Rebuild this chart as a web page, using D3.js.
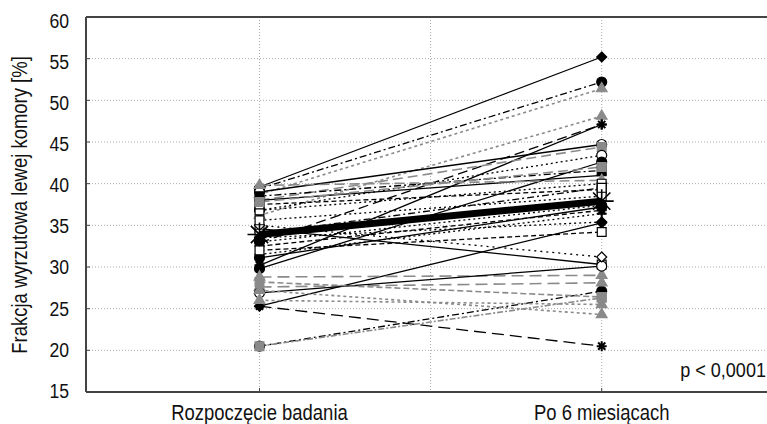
<!DOCTYPE html>
<html>
<head>
<meta charset="utf-8">
<script src="https://cdn.jsdelivr.net/npm/d3@7"></script>
<style>
  body { margin: 0; background: #fff; }
  svg { display: block; }
  text { font-family: "Liberation Sans", Arial, sans-serif; fill: #111; }
</style>
</head>
<body>
<svg id="chart" width="767" height="424"></svg>
<script>
'use strict';

var categories = ['Rozpoczęcie badania', 'Po 6 miesiącach'];
var yTicks = [15, 20, 25, 30, 35, 40, 45, 50, 55, 60];

// EF per patient: baseline and after 6 months
var baseline = [39.6, 39.4, 38.7, 36.2, 30.2, 32.9, 39.0, 38.0, 36.8, 29.8,
                25.3, 25.3, 20.5, 20.5, 28.8, 27.6, 31.1, 34.6, 26.9, 35.0,
                27.2, 26.0, 28.2, 38.0, 38.5, 39.8, 36.8, 37.5, 35.6, 33.0,
                32.5, 31.5, 34.0, 37.8, 33.5, 32.0];
var month6   = [55.2, 52.2, 51.4, 48.1, 47.1, 47.1, 44.7, 44.4, 43.4, 42.6,
                35.3, 20.5, 27.1, 26.3, 29.0, 28.1, 37.2, 30.3, 30.1, 31.2,
                24.3, 25.5, 26.4, 41.0, 41.6, 40.4, 40.0, 39.3, 38.5, 37.4,
                36.8, 36.4, 39.5, 42.0, 35.4, 34.2];
var meanValues = [33.9, 37.9];
var pText = 'p < 0,0001';

// per-patient drawing style: marker, fill, colour, dash
var markers = ['diamond', 'circle', 'triangle', 'triangle', 'asterisk', 'plus', 'ocircle', 'square', 'ocircle', 'circle',
               'diamond', 'asterisk', 'circle', 'square', 'triangle', 'triangle', 'circle', 'osquare', 'ocircle', 'odiamond',
               'triangle', 'triangle', 'square', 'plus', 'square', 'triangle', 'osquare', 'osquare', 'osquare', 'circle',
               'asterisk', 'plus', 'osquare', 'square', 'diamond', 'osquare'];
var greys   = [0, 0, 1, 1, 0, 0, 0, 1, 0, 0,
               0, 0, 0, 1, 1, 1, 0, 0, 0, 0,
               1, 1, 1, 0, 0, 1, 0, 0, 0, 0,
               0, 0, 0, 1, 0, 0];
var dashes  = ['', '7,3,2,3', '3,3', '3,3', '', '10,5', '', '10,5', '2,3', '',
               '', '12,6', '7,3,2,3', '6,2,2,2', '12,6', '12,6', '', '', '', '2,4',
               '3,3', '3,3', '6,3', '', '7,3,2,3', '10,5', '2,3', '5,3', '2,3', '2,3',
               '5,3', '2,3', '7,3,2,3', '10,5', '2,3', '5,3'];

function chart() {
    var svg = d3.select('#chart');
    var plotLeft = 86, plotTop = 17, plotBottom = 392, plotRight = 767;
    var narrow = 0.84; // Arial Narrow look, squeezed Liberation Sans

    var x = d3.scaleLinear().domain([1, 2]).range([259.5, 601.7]);
    var y = d3.scaleLinear().domain([15, 60]).range([plotBottom, plotTop]);

    // grid
    svg.append('g').selectAll('line')
        .data(yTicks.filter(function(d) { return d > 15 && d < 60; }))
        .enter().append('line')
        .attr('x1', plotLeft).attr('x2', plotRight)
        .attr('y1', function(d) { return y(d); }).attr('y2', function(d) { return y(d); })
        .style('stroke', '#aaa').style('stroke-width', 1).style('stroke-dasharray', '1,2');

    svg.append('g').selectAll('line')
        .data([1, 1.5, 2])
        .enter().append('line')
        .attr('x1', function(d) { return x(d); }).attr('x2', function(d) { return x(d); })
        .attr('y1', plotTop).attr('y2', plotBottom)
        .style('stroke', '#aaa').style('stroke-width', 1).style('stroke-dasharray', '1,2');

    function markerPath(type, s) {
        var h = s / 2;
        if (type === 'asterisk') {
            var q = h * 0.72;
            return 'M' + (-h) + ',0L' + h + ',0M0,' + (-h) + 'L0,' + h +
                   'M' + (-q) + ',' + (-q) + 'L' + q + ',' + q + 'M' + (-q) + ',' + q + 'L' + q + ',' + (-q);
        }
        if (type === 'plus') {
            return 'M' + (-h) + ',0L' + h + ',0M0,' + (-h) + 'L0,' + h;
        }
        var t = type.replace(/^o/, '');
        if (t === 'diamond') {
            return 'M0,' + (-h) + 'L' + h + ',0L0,' + h + 'L' + (-h) + ',0Z';
        }
        var sym = { circle: d3.symbolCircle, square: d3.symbolSquare, triangle: d3.symbolTriangle }[t];
        var area = t === 'triangle' ? s * s * 0.5 : s * s * 0.78;
        return d3.symbol().type(sym).size(area)();
    }

    var patients = baseline.map(function(b, i) {
        return { b: b, m: month6[i], marker: markers[i], grey: greys[i], dash: dashes[i] };
    });

    svg.append('g').selectAll('line')
        .data(patients)
        .enter().append('line')
        .attr('x1', x(1)).attr('x2', x(2))
        .attr('y1', function(d) { return y(d.b); })
        .attr('y2', function(d) { return y(d.m); })
        .style('stroke', function(d) { return d.grey ? '#8a8a8a' : '#000'; })
        .style('stroke-width', function(d) { return d.grey ? 1.6 : 1.3; })
        .style('stroke-dasharray', function(d) { return d.dash || null; });

    var pts = [];
    patients.forEach(function(d) {
        pts.push({ cx: x(1), v: d.b, p: d });
        pts.push({ cx: x(2), v: d.m, p: d });
    });

    svg.append('g').selectAll('path')
        .data(pts)
        .enter().append('path')
        .attr('transform', function(d) { return 'translate(' + d.cx + ',' + y(d.v) + ')'; })
        .attr('d', function(d) { return markerPath(d.p.marker, 10); })
        .style('fill', function(d) {
            var t = d.p.marker;
            if (t === 'asterisk' || t === 'plus') return 'none';
            if (t.charAt(0) === 'o') return '#fff';
            return d.p.grey ? '#8a8a8a' : '#000';
        })
        .style('stroke', function(d) { return d.p.grey ? '#8a8a8a' : '#000'; })
        .style('stroke-width', function(d) {
            var t = d.p.marker;
            return (t === 'asterisk' || t === 'plus') ? 2 : 1.2;
        });

    // mean line
    svg.append('line')
        .attr('x1', x(1)).attr('x2', x(2))
        .attr('y1', y(meanValues[0])).attr('y2', y(meanValues[1]))
        .style('stroke', '#000').style('stroke-width', 7);

    svg.append('g').selectAll('path')
        .data(meanValues)
        .enter().append('path')
        .attr('transform', function(d, i) { return 'translate(' + x(i + 1) + ',' + y(d) + ')'; })
        .attr('d', markerPath('asterisk', 24))
        .style('fill', 'none').style('stroke', '#000').style('stroke-width', 1.6);

    // frame
    svg.append('line').attr('x1', plotLeft).attr('x2', plotLeft).attr('y1', plotTop).attr('y2', plotBottom)
        .style('stroke', '#444').style('stroke-width', 2);
    svg.append('line').attr('x1', plotLeft).attr('x2', plotRight).attr('y1', plotTop).attr('y2', plotTop)
        .style('stroke', '#444').style('stroke-width', 2);
    svg.append('line').attr('x1', plotLeft).attr('x2', plotRight).attr('y1', plotBottom).attr('y2', plotBottom)
        .style('stroke', '#444').style('stroke-width', 2);

    // ticks
    svg.append('g').selectAll('line')
        .data(yTicks)
        .enter().append('line')
        .attr('x1', plotLeft).attr('x2', plotLeft + 4)
        .attr('y1', function(d) { return y(d); }).attr('y2', function(d) { return y(d); })
        .style('stroke', '#444').style('stroke-width', 1);

    svg.append('g').selectAll('line')
        .data([1, 2])
        .enter().append('line')
        .attr('x1', function(d) { return x(d); }).attr('x2', function(d) { return x(d); })
        .attr('y1', plotBottom).attr('y2', plotBottom - 4)
        .style('stroke', '#444').style('stroke-width', 1);

    // tick labels
    svg.append('g').selectAll('text')
        .data(yTicks)
        .enter().append('text')
        .attr('transform', function(d) {
            return 'translate(69,' + (y(d) + 1 + (d - 37.5) * 0.12) + ') scale(' + narrow + ',1)';
        })
        .attr('dy', '0.35em')
        .attr('text-anchor', 'end')
        .style('font-size', '21px')
        .text(function(d) { return d; });

    svg.append('g').selectAll('text')
        .data(categories)
        .enter().append('text')
        .attr('transform', function(d, i) { return 'translate(' + x(i + 1) + ',420) scale(' + narrow + ',1)'; })
        .attr('text-anchor', 'middle')
        .style('font-size', '22px')
        .text(function(d) { return d; });

    svg.append('text')
        .attr('transform', 'translate(27,205) rotate(-90) scale(' + narrow + ',1)')
        .attr('text-anchor', 'middle')
        .style('font-size', '22px')
        .text('Frakcja wyrzutowa lewej komory [%]');

    svg.append('text')
        .attr('transform', 'translate(766,377) scale(0.86,1)')
        .attr('text-anchor', 'end')
        .style('font-size', '21px')
        .text(pText);
}

chart();
</script>
</body>
</html>
